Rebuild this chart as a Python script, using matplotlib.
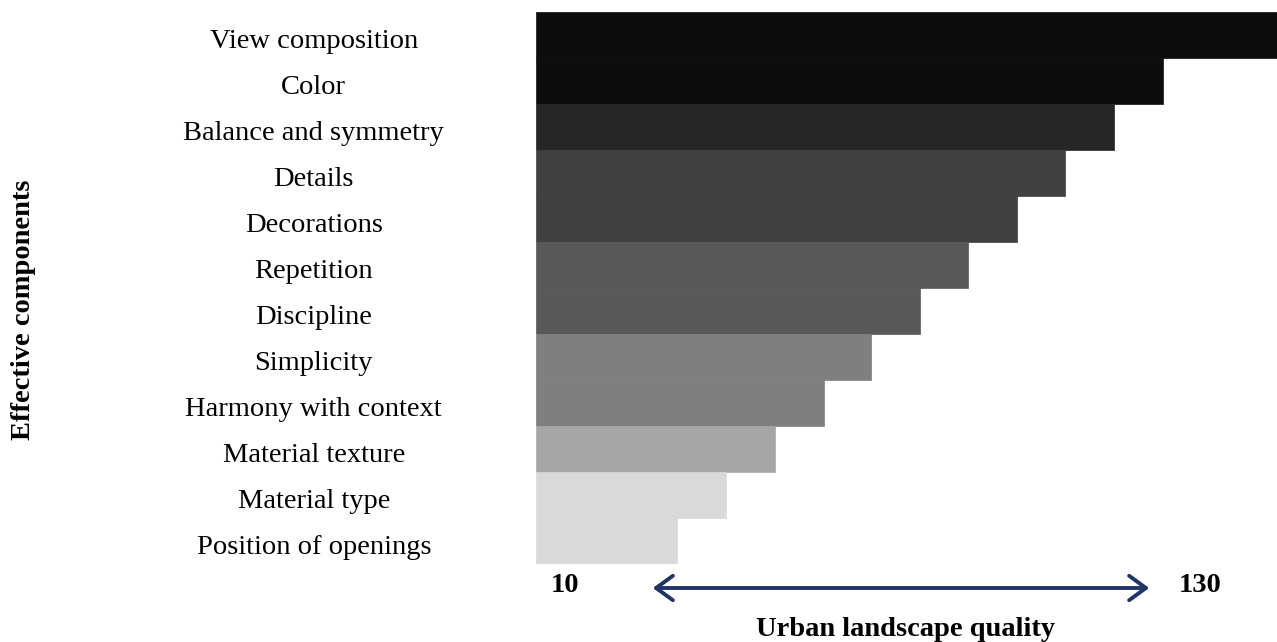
import matplotlib.pyplot as plt
from matplotlib.patches import FancyArrowPatch
from matplotlib.transforms import ScaledTranslation

# components, top to bottom
components = ["View composition", "Color", "Balance and symmetry", "Details",
              "Decorations", "Repetition", "Discipline", "Simplicity",
              "Harmony with context", "Material texture", "Material type",
              "Position of openings"]
scores = [15.5, 12.86, 11.86, 10.86, 9.87, 8.87, 7.87, 6.88, 5.9, 4.9, 3.9, 2.9]
shades = ["#0d0d0d", "#0d0d0d", "#262626", "#404040", "#404040", "#595959",
          "#595959", "#7f7f7f", "#7f7f7f", "#a6a6a6", "#d9d9d9", "#d9d9d9"]
scale_low, scale_high = "10", "130"

W, H = 1277, 642
plt.rcParams['font.family'] = ['Liberation Serif', 'DejaVu Serif']

fig = plt.figure(figsize=(W / 100, H / 100), dpi=100)
ax = fig.add_axes([536 / W, 1 - 564 / H, (W - 536) / W, 552 / H])

ypos = list(range(len(components)))
ax.barh(ypos, scores, height=1.0, color=shades, edgecolor=shades, linewidth=0.5)
ax.set_xlim(0, 15.2)
ax.set_ylim(len(components) - 0.5, -0.5)

ax.set_yticks(ypos)
ax.set_yticklabels(components, fontsize=20.5, ha="center", va="center_baseline")
ax.tick_params(axis="y", length=0, pad=160)
ax.set_xticks([])
for s in ax.spines.values():
    s.set_visible(False)
# nudge category labels down a few pixels
shift = ScaledTranslation(0, -3 / 100, fig.dpi_scale_trans)
for lab in ax.get_yticklabels():
    lab.set_transform(lab.get_transform() + shift)

def fx(x):
    return x / W

def fy(y):
    return 1 - y / H

fig.text(fx(24), fy(310), "Effective components", rotation=90, fontsize=20.5,
         fontweight="bold", ha="center", va="center")
fig.text(fx(565), fy(585), scale_low, fontsize=20.5, fontweight="bold", ha="center", va="center")
fig.text(fx(1200), fy(585), scale_high, fontsize=20.5, fontweight="bold", ha="center", va="center")
fig.text(fx(906), fy(629), "Urban landscape quality", fontsize=20.5, fontweight="bold",
         ha="center", va="center")

fig.add_artist(FancyArrowPatch(
    (fx(650), fy(588)), (fx(1152), fy(588)), transform=fig.transFigure,
    arrowstyle="<->,head_length=0.55,head_width=0.4", mutation_scale=22,
    color="#1f3468", linewidth=2.8))

fig.savefig("out.png", dpi=100)
